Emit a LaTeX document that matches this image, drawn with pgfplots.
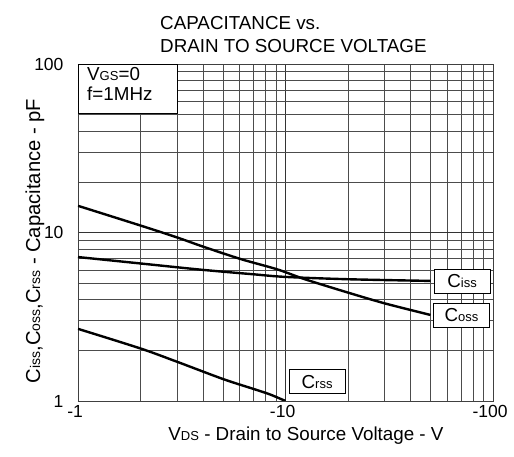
\documentclass[border=0pt]{standalone}
\usepackage{fontspec}
\setmainfont{Liberation Sans}
\usepackage{pgfplots}
\pgfplotsset{compat=1.18}
\newcommand\sub[1]{{\fontsize{13}{13}\selectfont #1}}
\newcommand\fs{\fontsize{18.8}{20}\selectfont}
\newcommand\ft{\fontsize{17.5}{18}\selectfont}
\begin{document}
\begin{tikzpicture}[x=1pt,y=1pt]
\useasboundingbox (-78,-56) rectangle (436,401);
\begin{axis}[at={(0,0)}, anchor=south west, scale only axis,
  width=415pt, height=337pt,
  xmode=log, ymode=log, xmin=1, xmax=100, ymin=1, ymax=100,
  xtick={1,10,100}, xticklabels={\llap{-}1,\llap{-}10,\llap{-}100},
  ytick={1,10,100}, yticklabels={1,10,100},
  minor xtick={2,3,4,5,6,7,8,9,20,30,40,50,60,70,80,90},
  minor ytick={2,3,4,5,6,7,8,9,20,30,40,50,60,70,80,90},
  grid=both,
  major grid style={black!80, line width=0.5pt},
  minor grid style={black!70, line width=0.5pt},
  major tick length=0pt, minor tick length=0pt,
  axis line style={black!75, line width=0.6pt},
  tick label style={font=\ft},
  xticklabel style={yshift=-1pt},
  yticklabel style={xshift=-11pt},
]
\addplot[black, line width=2.4pt, smooth] coordinates {
  (1,7.15) (2,6.55) (4,6.0) (7,5.65) (10,5.45) (20,5.28) (50,5.16)};
\addplot[black, line width=2.4pt, smooth] coordinates {
  (1,14.4) (2,11.0) (3,9.35) (4,8.25) (6.1,6.95) (9.1,6.05) (12.4,5.28) (20,4.4) (30,3.8) (50,3.24)};
\addplot[black, line width=2.4pt, smooth] coordinates {
  (1,2.68) (2,2.05) (3,1.71) (5,1.35) (7,1.18) (8.4,1.095) (10,1.0)};
\node[draw, fill=white, line width=0.6pt, minimum width=56pt, minimum height=24pt, inner sep=0pt] at (axis cs:71,5.16) {\fs C\sub{iss}};
\node[draw, fill=white, line width=0.6pt, minimum width=56pt, minimum height=24pt, inner sep=0pt] at (axis cs:70.5,3.22) {\fs C\sub{oss}};
\node[draw, fill=white, line width=0.6pt, minimum width=56pt, minimum height=24pt, inner sep=0pt] at (axis cs:14.2,1.3) {\fs C\sub{rss}};
\end{axis}
\draw[fill=white, line width=0.6pt] (0,288) rectangle (99,337);
\node[anchor=base west, inner sep=0pt] at (9,320) {\fs V\sub{GS}=0};
\node[anchor=base west, inner sep=0pt] at (9,300) {\fs f=1MHz};
\node[anchor=base west, inner sep=0pt] at (82,371) {\fs CAPACITANCE vs.};
\node[anchor=base west, inner sep=0pt] at (82,348) {\fs DRAIN TO SOURCE VOLTAGE};
\node[anchor=base, inner sep=0pt] at (228,-40) {\fs V\sub{DS} - Drain to Source Voltage - V};
\node[anchor=center, rotate=90, inner sep=0pt] at (-43,160) {\fontsize{20.2}{21}\selectfont C{\fontsize{14}{14}\selectfont iss},C{\fontsize{14}{14}\selectfont oss},C{\fontsize{14}{14}\selectfont rss} - Capacitance - pF};
\end{tikzpicture}
\end{document}
